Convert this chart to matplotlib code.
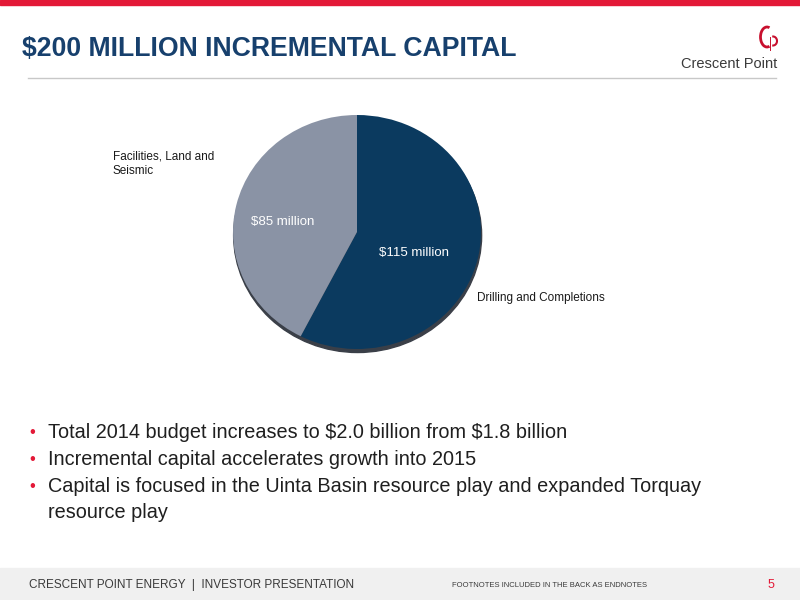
import matplotlib.pyplot as plt
from matplotlib.patches import Rectangle, Ellipse, Arc

# data
categories = ["Drilling and Completions", "Facilities, Land and\nSeismic"]
values = [115, 85]
value_labels = ["$115 million", "$85 million"]
colors = ["#0B3A5F", "#8A93A5"]

title = "$200 MILLION INCREMENTAL CAPITAL"
bullets = [
    "Total 2014 budget increases to $2.0 billion from $1.8 billion",
    "Incremental capital accelerates growth into 2015",
    "Capital is focused in the Uinta Basin resource play and expanded Torquay",
    "resource play",
]

plt.rcParams['font.family'] = ['Liberation Sans', 'DejaVu Sans']
plt.rcParams['text.parse_math'] = False

fig = plt.figure(figsize=(8, 6), dpi=100)
W, H = 800, 600

def fx(px):
    return px / W

def fy(py):
    return 1 - py / H

# top red bar, header rule, footer band
fig.patches.append(Rectangle((0, fy(5)), 1, 5 / H, transform=fig.transFigure,
                             color="#E31937", zorder=0))
fig.add_artist(plt.Line2D([fx(28), fx(776)], [fy(78), fy(78)], color="#C8C8C8", lw=1))
fig.patches.append(Rectangle((0, 0), 1, 32 / H, transform=fig.transFigure,
                             color="#F0F0F0", zorder=0))

# title
fig.text(fx(22), fy(56), title, fontsize=19.2, fontweight="bold", color="#17406D",
         va="baseline", ha="left")

# logo
fig.text(fx(777), fy(68), "Crescent Point", fontsize=10.5, color="#3A3A3A",
         ha="right", va="baseline")
lax = fig.add_axes([fx(750), fy(52), 40 / W, 28 / H])
lax.set_xlim(0, 40)
lax.set_ylim(0, 28)
lax.set_aspect("equal")
lax.axis("off")
lax.add_patch(Arc((17, 15), 13, 20, theta1=75, theta2=285, color="#C8102E", lw=2.0))
lax.add_patch(Arc((23, 11), 8, 9, theta1=-100, theta2=100, color="#C8102E", lw=1.5))
lax.plot([20.2, 20.2], [2, 15], color="#C8102E", lw=0.7)

# pie (slightly flattened, as in the slide)
rx, ry = 124, 117
cx, cy = 357, 232
ax = fig.add_axes([fx(cx - rx), fy(cy + ry), 2 * rx / W, 2 * ry / H])
ax.add_patch(Ellipse((0.005, -0.03), 2.0, 2.0, color="#3A3F48", zorder=0,
                     clip_on=False))
wedges, _ = ax.pie(values, colors=colors, startangle=90, counterclock=False,
                   radius=1.0, wedgeprops=dict(linewidth=0))
ax.set_xlim(-1, 1)
ax.set_ylim(-1, 1)
ax.set_aspect("auto")
ax.axis("off")

# value labels inside slices
fig.text(fx(414), fy(253), value_labels[0], color="white", fontsize=9.5,
         ha="center", va="center")
fig.text(fx(283), fy(222), value_labels[1], color="white", fontsize=9.5,
         ha="center", va="center")

# category labels
fig.text(fx(477), fy(298), categories[0], fontsize=8.5, color="#1A1A1A",
         ha="left", va="center")
fig.text(fx(113), fy(164), categories[1], fontsize=8.5, color="#1A1A1A",
         ha="left", va="center", linespacing=1.3)

# bullets
baselines = [438, 465, 492, 518]
for i, (y, txt) in enumerate(zip(baselines, bullets)):
    if i < 3:
        fig.text(fx(29), fy(y - 1), "\u2022", color="#E31937", fontsize=12,
                 ha="left", va="baseline")
    fig.text(fx(48), fy(y), txt, color="#1F1F1F", fontsize=14.3, ha="left",
             va="baseline")

# footer
fig.text(fx(29), fy(588), "CRESCENT POINT ENERGY  |  INVESTOR PRESENTATION",
         fontsize=8.5, color="#3A3A3A", ha="left", va="baseline")
fig.text(fx(452), fy(587), "FOOTNOTES INCLUDED IN THE BACK AS ENDNOTES",
         fontsize=5.5, color="#3A3A3A", ha="left", va="baseline")
fig.text(fx(771), fy(588), "5", fontsize=9, color="#E31937", ha="center", va="baseline")

fig.savefig("out.png", dpi=100)
